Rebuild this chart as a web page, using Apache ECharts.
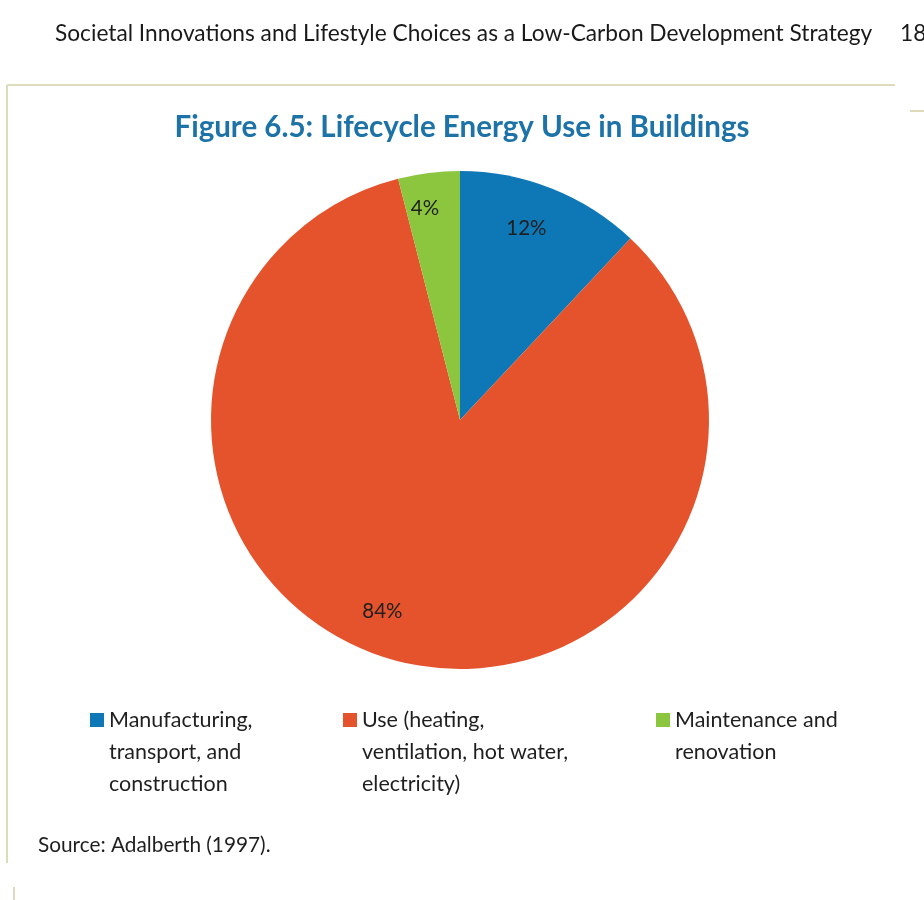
<!DOCTYPE html>
<html>
<head>
<meta charset="utf-8">
<script src="https://cdn.jsdelivr.net/npm/echarts@6/dist/echarts.min.js"></script>
<style>
html,body{margin:0;padding:0;background:#fff;}
#chart{width:924px;height:900px;}
</style>
</head>
<body>
<div id="chart"></div>
<script>
const categories = [
  "Manufacturing, transport, and construction",
  "Use (heating, ventilation, hot water, electricity)",
  "Maintenance and renovation"
];
const legendLabels = [
  "Manufacturing,\ntransport, and\nconstruction",
  "Use (heating,\nventilation, hot water,\nelectricity)",
  "Maintenance and\nrenovation"
];
const shares = [12, 84, 4];
const colors = ["#0e77b5", "#e4532b", "#8cc63f"];
const headerText = "Societal Innovations and Lifestyle Choices as a Low-Carbon Development Strategy";
const pageNumber = "183";
const titleText = "Figure 6.5: Lifecycle Energy Use in Buildings";
const sourceText = "Source: Adalberth (1997).";

const FONT = "Lato, 'Open Sans', sans-serif";
const chart = echarts.init(document.getElementById('chart'), null, {renderer: 'canvas'});

const labelOffsets = [[-10, 1], [-26, -10], [-9, -6]];
const legendLeft = [90, 343, 656];
const lineH = 32;
const box = 14;

const legends = categories.map((c, i) => {
  const nLines = legendLabels[i].split("\n").length;
  // tall icon box so the square sits beside the first text line
  const h = nLines * lineH - lineH + box;
  return {
    data: [c],
    left: legendLeft[i],
    top: 713 - (lineH / 2 - box / 2),
    padding: 0,
    orient: 'vertical',
    itemWidth: box,
    itemHeight: h,
    itemGap: 0,
    icon: 'path://M0,0L' + box + ',0L' + box + ',' + box + 'L0,' + box + 'ZM0,' + h + 'L0,' + h + 'Z',
    selectedMode: false,
    formatter: () => legendLabels[i],
    textStyle: {
      fontFamily: FONT,
      fontSize: 21.5,
      color: '#1f1f1f',
      lineHeight: lineH
    }
  };
});

const option = {
  animation: false,
  backgroundColor: '#ffffff',
  color: colors,
  title: {
    text: titleText,
    left: 'center',
    top: 107,
    textStyle: {fontFamily: FONT, fontSize: 29.5, fontWeight: 'bold', color: '#1d73a8'}
  },
  legend: legends,
  graphic: [
    {type: 'text', left: 55, top: 22, style: {text: headerText, font: "22.7px " + FONT, fill: '#1a1a1a'}},
    {type: 'text', left: 900, top: 22, style: {text: pageNumber, font: "22.7px " + FONT, fill: '#1a1a1a'}},
    {type: 'line', shape: {x1: 7, y1: 85, x2: 895, y2: 85}, style: {stroke: '#dcdcbc', lineWidth: 2}},
    {type: 'line', shape: {x1: 7, y1: 85, x2: 7, y2: 863}, style: {stroke: '#dcdcbc', lineWidth: 2}},
    {type: 'line', shape: {x1: 910, y1: 111, x2: 924, y2: 111}, style: {stroke: '#dcdcbc', lineWidth: 2}},
    {type: 'line', shape: {x1: 14, y1: 887, x2: 14, y2: 900}, style: {stroke: '#dcdcbc', lineWidth: 2}},
    {type: 'text', left: 38, top: 835, style: {text: sourceText, font: "20.8px " + FONT, fill: '#1f1f1f'}}
  ],
  series: [
    {
      type: 'pie',
      center: [460, 420],
      radius: [0, 249],
      startAngle: 90,
      clockwise: true,
      label: {show: false},
      labelLine: {show: false},
      itemStyle: {borderWidth: 0},
      emphasis: {disabled: true},
      data: categories.map((c, i) => ({name: c, value: shares[i]}))
    },
    {
      type: 'pie',
      center: [460, 420],
      radius: [160, 249],
      startAngle: 90,
      clockwise: true,
      silent: true,
      itemStyle: {color: 'rgba(0,0,0,0)'},
      label: {
        show: true,
        position: 'inside',
        formatter: p => shares[p.dataIndex] + '%',
        fontFamily: FONT,
        fontSize: 20.5,
        color: '#1f1f1f'
      },
      labelLine: {show: false},
      emphasis: {disabled: true},
      data: categories.map((c, i) => ({name: c, value: shares[i], label: {offset: labelOffsets[i]}}))
    }
  ]
};
chart.setOption(option);
</script>
</body>
</html>
